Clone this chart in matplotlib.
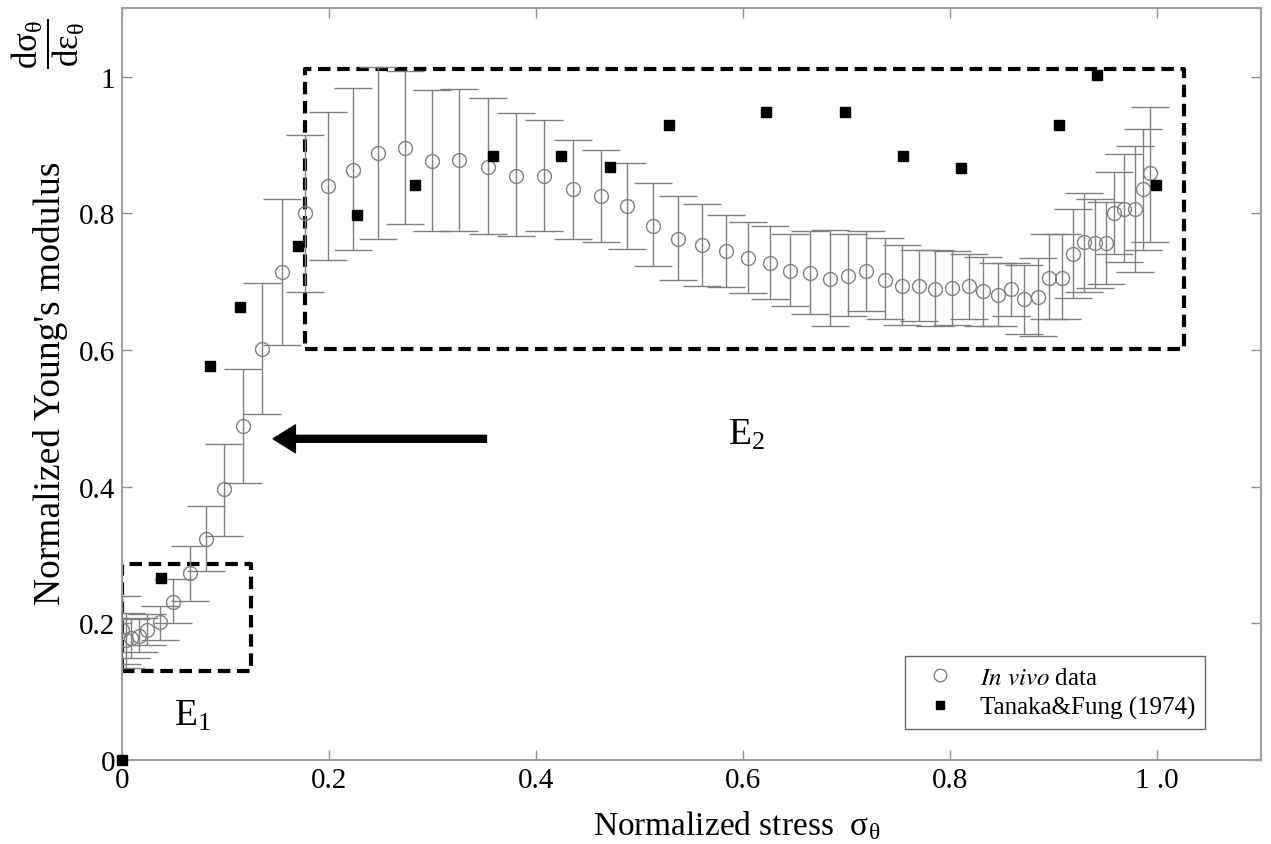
import matplotlib
matplotlib.use("Agg")
import matplotlib.pyplot as plt
from matplotlib.lines import Line2D

# in vivo data: stress, modulus, lower / upper end of error bar
vivo_x = [0.000, 0.004, 0.009, 0.016, 0.024, 0.037, 0.049, 0.066, 0.081, 0.0985,
          0.1165, 0.135, 0.155, 0.1766, 0.199, 0.2227, 0.2475, 0.273, 0.2996, 0.3256,
          0.3536, 0.381, 0.408, 0.4356, 0.4624, 0.488, 0.5129, 0.537, 0.5605, 0.5837,
          0.6045, 0.6255, 0.6454, 0.6647, 0.6834, 0.701, 0.7188, 0.7365, 0.7535, 0.7696,
          0.7857, 0.8018, 0.818, 0.8314, 0.8459, 0.8588, 0.8716, 0.8845, 0.8958, 0.908,
          0.9183, 0.9295, 0.940, 0.9505, 0.9585, 0.968, 0.978, 0.986, 0.993]
vivo_y = [0.190, 0.175, 0.178, 0.182, 0.190, 0.202, 0.231, 0.274, 0.324, 0.396,
          0.489, 0.602, 0.714, 0.800, 0.840, 0.864, 0.888, 0.896, 0.876, 0.878,
          0.868, 0.855, 0.855, 0.835, 0.825, 0.810, 0.782, 0.763, 0.754, 0.745,
          0.735, 0.728, 0.715, 0.713, 0.704, 0.708, 0.715, 0.703, 0.694, 0.693,
          0.689, 0.690, 0.693, 0.686, 0.681, 0.689, 0.675, 0.678, 0.706, 0.706,
          0.740, 0.758, 0.757, 0.757, 0.800, 0.807, 0.806, 0.835, 0.859]
vivo_lo = [0.140, 0.135, 0.150, 0.158, 0.168, 0.176, 0.200, 0.233, 0.277, 0.328,
           0.405, 0.507, 0.607, 0.685, 0.732, 0.746, 0.762, 0.784, 0.774, 0.774,
           0.769, 0.767, 0.774, 0.762, 0.758, 0.748, 0.723, 0.702, 0.694, 0.692,
           0.683, 0.675, 0.664, 0.653, 0.635, 0.649, 0.657, 0.646, 0.637, 0.642,
           0.635, 0.636, 0.645, 0.635, 0.635, 0.650, 0.624, 0.620, 0.645, 0.645,
           0.676, 0.685, 0.690, 0.697, 0.741, 0.729, 0.714, 0.746, 0.758]
vivo_hi = [0.240, 0.215, 0.206, 0.208, 0.214, 0.226, 0.265, 0.313, 0.371, 0.463,
           0.572, 0.698, 0.821, 0.914, 0.948, 0.983, 1.014, 1.008, 0.980, 0.982,
           0.969, 0.947, 0.936, 0.908, 0.893, 0.873, 0.844, 0.826, 0.814, 0.798,
           0.788, 0.782, 0.769, 0.774, 0.775, 0.769, 0.774, 0.764, 0.753, 0.746,
           0.746, 0.745, 0.741, 0.736, 0.728, 0.727, 0.724, 0.735, 0.770, 0.770,
           0.807, 0.830, 0.821, 0.816, 0.860, 0.887, 0.898, 0.923, 0.956]

# Tanaka & Fung (1974)
tf_x = [0.0, 0.038, 0.085, 0.114, 0.170, 0.2265, 0.283, 0.358, 0.424, 0.471,
        0.528, 0.622, 0.698, 0.754, 0.8105, 0.905, 0.942, 0.999]
tf_y = [0.0, 0.266, 0.576, 0.663, 0.752, 0.797, 0.841, 0.884, 0.884, 0.868,
        0.929, 0.948, 0.948, 0.884, 0.867, 0.929, 1.003, 0.841]

xticks = [0, 0.2, 0.4, 0.6, 0.8, 1.0]
xticklabels = ["0", "0.2", "0.4", "0.6", "0.8", "1 .0"]
yticks = [0, 0.2, 0.4, 0.6, 0.8, 1.0]
yticklabels = ["0", "0.2", "0.4", "0.6", "0.8", "1"]

plt.rcParams["font.family"] = ["Liberation Serif", "DejaVu Serif"]
plt.rcParams["mathtext.fontset"] = "stix"
plt.rcParams["mathtext.default"] = "regular"

fig = plt.figure(figsize=(12.71, 8.45), dpi=100)
ax = fig.add_axes([0.096, 0.0994, 0.896, 0.8896])

err_lo = [y - lo for y, lo in zip(vivo_y, vivo_lo)]
err_hi = [hi - y for y, hi in zip(vivo_y, vivo_hi)]

ax.errorbar(vivo_x, vivo_y, yerr=[err_lo, err_hi], fmt="o", mfc="none", mec="#808080",
            ms=10, mew=1.0, ecolor="#808080", elinewidth=1.0, capsize=14, capthick=1.0,
            zorder=3)
ax.plot(tf_x, tf_y, "s", color="black", ms=7, clip_on=False, zorder=4)

# dashed boxes for E1 and E2 regions
box_kw = dict(color="black", lw=3, ls=(0, (3, 1.6)), zorder=2)
ax.plot([0, 0.125, 0.125, 0, 0], [0.13, 0.13, 0.2875, 0.2875, 0.13], **box_kw)
ax.plot([0.1766, 1.026, 1.026, 0.1766, 0.1766], [0.601, 0.601, 1.011, 1.011, 0.601], **box_kw)

ax.text(0.068, 0.066, r"E$_1$", fontsize=27, ha="center", va="center")
ax.text(0.603, 0.477, r"E$_2$", fontsize=27, ha="center", va="center")

ax.annotate("", xy=(0.146, 0.470), xytext=(0.352, 0.470),
            arrowprops=dict(facecolor="black", edgecolor="black", width=5,
                            headwidth=20, headlength=16, shrink=0))

ax.set_xlim(0, 1.10)
ax.set_ylim(0, 1.10)
ax.set_xticks(xticks)
ax.set_xticklabels(xticklabels)
ax.set_yticks(yticks)
ax.set_yticklabels(yticklabels)
ax.tick_params(direction="in", length=7, width=1, color="#909090",
               top=True, right=True, labelsize=21, pad=5)
for s in ax.spines.values():
    s.set_color("#a0a0a0")
    s.set_linewidth(1.5)

ax.set_xlabel(r"Normalized stress  $\sigma_\theta$", fontsize=24, labelpad=2)
ax.xaxis.set_label_coords(0.54, -0.065)

# y label: words plus the derivative, placed separately as in the original
ax.text(-0.063, 0.503, "Normalized Young's modulus", fontsize=27, rotation=90,
        ha="center", va="center", transform=ax.transAxes)
ax.text(-0.065, 0.955, r"$\dfrac{d\sigma_\theta}{d\epsilon_\theta}$", fontsize=25,
        rotation=90, ha="center", va="center", transform=ax.transAxes)

handles = [Line2D([], [], ls="none", marker="o", mfc="none", mec="#808080", ms=9),
           Line2D([], [], ls="none", marker="s", color="black", ms=6)]
labels = [r"$\mathit{In\ vivo}$ data", "Tanaka&Fung (1974)"]
leg = ax.legend(handles, labels, loc="lower right", bbox_to_anchor=(0.951, 0.041),
                fontsize=18, frameon=True, fancybox=False, borderaxespad=0,
                handletextpad=0.6, borderpad=0.4, labelspacing=0.3)
leg.get_frame().set_edgecolor("#404040")
leg.get_frame().set_linewidth(1)

fig.savefig("out.png", dpi=100)
